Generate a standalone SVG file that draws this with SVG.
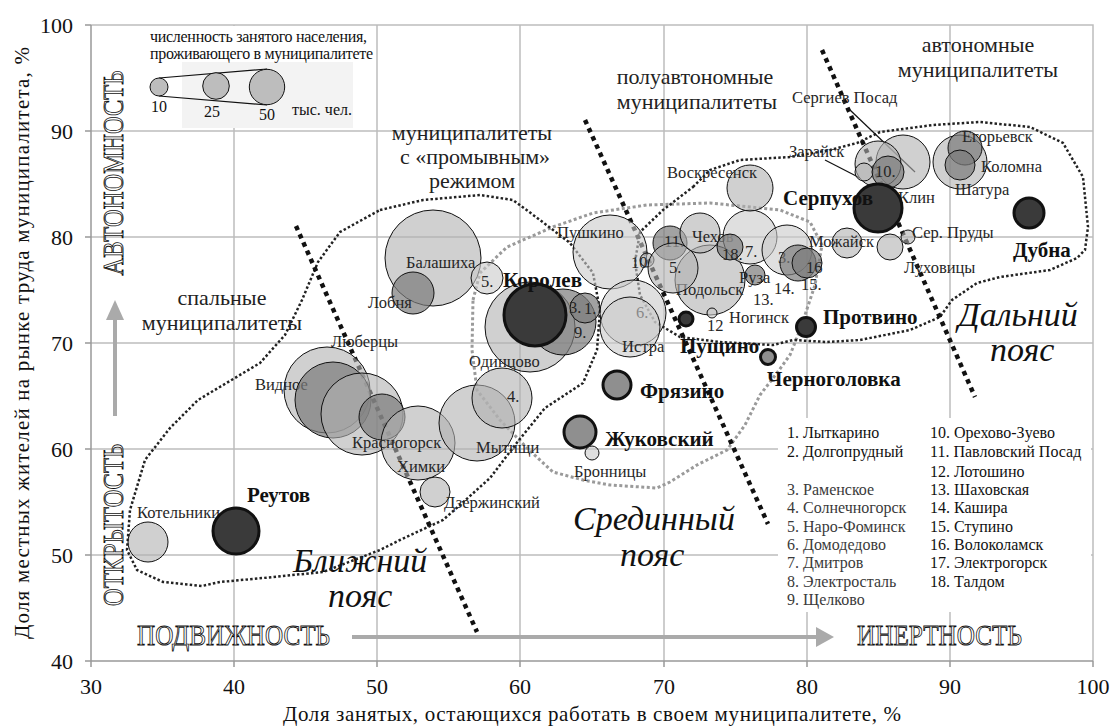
<svg xmlns="http://www.w3.org/2000/svg" width="1110" height="727" viewBox="0 0 1110 727" font-family="'Liberation Serif', serif">
<style>
text{font-family:"Liberation Serif","Times New Roman",serif;fill:#111}
.grid{stroke:#bdbdbd;stroke-width:1.5;fill:none}
.axis{stroke:#999;stroke-width:1.5;fill:none}
.tick{font-size:22px}
.lbl{font-size:16.5px;fill:#262626}
.bold{font-size:21px;font-weight:bold;fill:#111}
.zone{font-size:22px;fill:#222;text-anchor:middle}
.belt{font-size:34px;font-style:italic;fill:#111}
.outline{font-size:29px;fill:#fff;stroke:#111;stroke-width:0.9}
.leg{font-size:16px;fill:#111}
.leg2{font-size:16px;fill:#3a3a3a}
circle{stroke:#111;stroke-width:1}
.l{fill:#b0b0b0;fill-opacity:0.6}
.vl{fill:#cacaca;fill-opacity:0.6}
.m{fill:#7a7a7a;fill-opacity:0.7}
.sd{fill:#3a3a3a;stroke-width:3}
.sm{fill:#8f8f8f;stroke-width:3}
.thick{stroke:#111;stroke-width:4.5;stroke-dasharray:4.5 4.5;fill:none}
.bloop{stroke:#222;stroke-width:2.5;stroke-dasharray:2.5 2.2;fill:none}
.gloop{stroke:#9a9a9a;stroke-width:3;stroke-dasharray:3 2.5;fill:none}
.lead{stroke:#111;stroke-width:1.2;fill:none}
</style>
<rect x="0" y="0" width="1110" height="727" fill="#fff"/>
<g id="grid">
<path class="grid" d="M234,25V661M377,25V661M520,25V661M664,25V661M807,25V661M950,25V661M91,131H1093M91,237H1093M91,343H1093M91,449H1093M91,555H1093M91,25H1093V661"/>
<path class="axis" d="M91,25V661H1093M85,25H91M85,131H91M85,237H91M85,343H91M85,449H91M85,555H91M85,661H91M91,661V667M234,661V667M377,661V667M520,661V667M664,661V667M807,661V667M950,661V667M1093,661V667"/>
</g>
<g id="ticks" class="tick">
<text x="73" y="33" text-anchor="end">100</text>
<text x="73" y="139" text-anchor="end">90</text>
<text x="73" y="245" text-anchor="end">80</text>
<text x="73" y="351" text-anchor="end">70</text>
<text x="73" y="457" text-anchor="end">60</text>
<text x="73" y="563" text-anchor="end">50</text>
<text x="73" y="669" text-anchor="end">40</text>
<text x="91" y="694" text-anchor="middle">30</text>
<text x="234" y="694" text-anchor="middle">40</text>
<text x="377" y="694" text-anchor="middle">50</text>
<text x="520" y="694" text-anchor="middle">60</text>
<text x="664" y="694" text-anchor="middle">70</text>
<text x="807" y="694" text-anchor="middle">80</text>
<text x="950" y="694" text-anchor="middle">90</text>
<text x="1093" y="694" text-anchor="middle">100</text>
<text x="592" y="721" text-anchor="middle" font-size="21" textLength="618">Доля занятых, остающихся работать в своем муниципалитете, %</text>
<text transform="translate(29,343) rotate(-90)" text-anchor="middle" font-size="21" textLength="592">Доля местных жителей на рынке труда муниципалитета, %</text>
</g>
<g id="size-legend">
<rect x="140" y="26" width="233" height="102" fill="#fff"/>
<rect x="182" y="62" width="171" height="66" fill="#f3f3f3"/>
<text class="leg" x="150" y="42" textLength="217">численность занятого населения,</text>
<text class="leg" x="150" y="59" textLength="223">проживающего в муниципалитете</text>
<path class="lead" d="M159,78L267,69M159,96L267,105"/>
<circle cx="159" cy="87" r="9" fill="#bdbdbd"/>
<circle cx="216" cy="86" r="13.3" fill="#bdbdbd"/>
<circle cx="267" cy="87" r="17.7" fill="#bdbdbd"/>
<text class="leg" x="159" y="112" text-anchor="middle">10</text>
<text class="leg" x="212" y="117" text-anchor="middle">25</text>
<text class="leg" x="267" y="120" text-anchor="middle">50</text>
<text class="leg" x="292" y="115">тыс. чел.</text>
</g>
<g id="axis-labels">
<text class="outline" transform="translate(123,173) rotate(-90)" text-anchor="middle" textLength="205" lengthAdjust="spacingAndGlyphs">АВТОНОМНОСТЬ</text>
<text class="outline" transform="translate(123,525) rotate(-90)" text-anchor="middle" textLength="162" lengthAdjust="spacingAndGlyphs">ОТКРЫТОСТЬ</text>
<path d="M115,416V318" stroke="#aaa" stroke-width="4"/>
<path d="M115,300L106,320H124Z" fill="#aaa"/>
<text class="outline" x="137" y="645" textLength="193" lengthAdjust="spacingAndGlyphs">ПОДВИЖНОСТЬ</text>
<text class="outline" x="857" y="645" textLength="165" lengthAdjust="spacingAndGlyphs">ИНЕРТНОСТЬ</text>
<path d="M352,637H818" stroke="#aaa" stroke-width="4"/>
<path d="M834,637L816,627V647Z" fill="#aaa"/>
</g>
<g id="zone-labels">
<text class="zone" x="222" y="305">спальные</text>
<text class="zone" x="222" y="330">муниципалитеты</text>
<text class="zone" x="472" y="140">муниципалитеты</text>
<text class="zone" x="475" y="164">с «промывным»</text>
<text class="zone" x="472" y="188">режимом</text>
<text class="zone" x="695" y="84">полуавтономные</text>
<text class="zone" x="697" y="109">муниципалитеты</text>
<text class="zone" x="978" y="52">автономные</text>
<text class="zone" x="978" y="77">муниципалитеты</text>
<text class="belt" x="293" y="572">Ближний</text>
<text class="belt" x="328" y="607">пояс</text>
<text class="belt" x="573" y="530">Срединный</text>
<text class="belt" x="620" y="566">пояс</text>
<text class="belt" x="958" y="326">Дальний</text>
<text class="belt" x="990" y="361">пояс</text>
</g>
<g id="list-legend">
<rect x="778" y="418" width="313" height="194" fill="#fff"/>
<text class="leg" x="787" y="438">1. Лыткарино</text>
<text class="leg" x="787" y="457">2. Долгопрудный</text>
<text class="leg2" x="787" y="495">3. Раменское</text>
<text class="leg2" x="787" y="513">4. Солнечногорск</text>
<text class="leg2" x="787" y="532">5. Наро-Фоминск</text>
<text class="leg2" x="787" y="550">6. Домодедово</text>
<text class="leg2" x="787" y="568">7. Дмитров</text>
<text class="leg2" x="787" y="587">8. Электросталь</text>
<text class="leg2" x="787" y="605">9. Щелково</text>
<text class="leg" x="930" y="438">10. Орехово-Зуево</text>
<text class="leg" x="930" y="457">11. Павловский Посад</text>
<text class="leg" x="930" y="477">12. Лотошино</text>
<text class="leg" x="930" y="495">13. Шаховская</text>
<text class="leg" x="930" y="513">14. Кашира</text>
<text class="leg" x="930" y="532">15. Ступино</text>
<text class="leg" x="930" y="550">16. Волоколамск</text>
<text class="leg" x="930" y="568">17. Электрогорск</text>
<text class="leg" x="930" y="587">18. Талдом</text>
</g>
<g id="zones">
<path class="gloop" d="M473,300L480,273L507,247L553,227L593,213L647,205L710,203L780,210L810,222L822,245L815,285L800,330L790,355L777,373L760,395L745,425L727,450L697,465L670,482L657,488L610,485L583,480L553,472L527,448L500,420L477,390L472,350Z"/>
<path class="bloop" d="M380,210L423,200L480,195L513,200L540,220L570,243L593,273L600,310L597,350L583,383L545,408L515,445L490,478L460,505L443,520L400,540L380,550L323,572L263,578L220,582L202,586L163,582L137,570L127,550L130,510L145,460L170,428L198,400L260,363L285,335L302,300L318,262L340,232Z"/>
<path class="bloop" d="M693,187L710,170L740,160L790,157L830,150L857,143L880,132L933,125L980,122L1030,127L1063,143L1083,177L1088,227L1085,250L1077,258L1050,270L1000,277L977,283L952,300L940,317L910,330L860,340L827,342L793,340L773,345L720,342L680,337L655,322L640,295L635,262L640,232L663,210Z"/>
<path class="thick" d="M296,226L477,632"/>
<path class="thick" d="M585,120L768,524"/>
<path class="thick" d="M822,50L975,397"/>
</g>
<g id="connectors">
<path class="lead" d="M850,110L915,172"/>
<path class="lead" d="M825,160L860,178"/>
</g>
<g id="n-kotelniki"><circle class="l" cx="148" cy="542" r="20"/><text class="lbl" x="137" y="518">Котельники</text></g>
<g id="n-reutov"><circle class="sd" cx="236" cy="531" r="23"/><text class="bold" x="247" y="502">Реутов</text></g>
<g id="n-vidnoe"><circle class="l" cx="327" cy="390" r="43"/><text class="lbl" x="255" y="390">Видное</text></g>
<g id="n-lubertsy"><circle class="m" cx="333" cy="400" r="38"/><text class="lbl" x="331" y="347">Люберцы</text></g>
<g id="n-c1"><circle class="l" cx="362" cy="414" r="41"/></g>
<g id="n-ramenskoe"><circle class="m" cx="382" cy="417" r="23"/></g>
<g id="n-krasnogorsk"><circle class="l" cx="418" cy="443" r="37"/><text class="lbl" x="352" y="448">Красногорск</text><text class="lbl" x="397" y="472">Химки</text></g>
<g id="n-mytishchi"><circle class="l" cx="477" cy="423" r="38"/><text class="lbl" x="476" y="453">Мытищи</text></g>
<g id="n-solnechnogorsk"><circle class="l" cx="502" cy="398" r="30"/><text class="lbl" x="507" y="402">4.</text></g>
<g id="n-dzerzhinsky"><circle class="l" cx="435" cy="492" r="15"/><text class="lbl" x="444" y="508">Дзержинский</text></g>
<g id="n-balashikha"><circle class="l" cx="433" cy="258" r="48"/><text class="lbl" x="406" y="268">Балашиха</text></g>
<g id="n-lobnya"><circle class="m" cx="413" cy="293" r="21"/><text class="lbl" x="368" y="308">Лобня</text></g>
<g id="n-narofominsk"><circle class="vl" cx="487" cy="278" r="16"/><text class="lbl" x="481" y="287">5.</text></g>
<g id="n-odintsovo"><circle class="l" cx="530" cy="327" r="45"/><text class="lbl" x="469" y="367">Одинцово</text></g>
<g id="n-shchelkovo"><circle class="m" cx="563" cy="322" r="33"/><text class="lbl" x="574" y="338">9.</text></g>
<g id="n-korolev"><circle class="sd" cx="535" cy="315" r="31"/><text class="bold" x="503" y="287">Королев</text></g>
<g id="n-lytkarino"><circle class="m" cx="585" cy="308" r="15"/><text class="lbl" x="569" y="313">3.</text><text class="lbl" x="584" y="314">1.</text></g>
<g id="n-pushkino"><circle class="vl" cx="610" cy="252" r="37"/><text class="lbl" x="557" y="238">Пушкино</text></g>
<g id="n-domodedovo"><circle class="vl" cx="633" cy="313" r="33"/><text class="lbl" x="636" y="318">6.</text></g>
<g id="n-istra"><circle class="vl" cx="630" cy="327" r="30"/><text class="lbl" x="622" y="352">Истра</text></g>
<g id="n-elektrogorsk"><circle class="l" cx="647" cy="260" r="7"/><text class="lbl" x="631" y="268">10</text></g>
<g id="n-podolsk"><circle class="l" cx="710" cy="280" r="35"/><text class="lbl" x="676" y="295">Подольск</text></g>
<g id="n-pavposad"><circle class="m" cx="670" cy="243" r="17"/><text class="lbl" x="664" y="247">11.</text></g>
<g id="n-c5b"><circle class="l" cx="673" cy="268" r="25"/><text class="lbl" x="669" y="273">5.</text></g>
<g id="n-chekhov"><circle class="l" cx="700" cy="233" r="20"/><text class="lbl" x="692" y="242">Чехов</text></g>
<g id="n-dmitrov"><circle class="vl" cx="750" cy="237" r="27"/><text class="lbl" x="745" y="257">7.</text></g>
<g id="n-taldom"><circle class="m" cx="730" cy="247" r="13"/><text class="lbl" x="722" y="260">18.</text></g>
<g id="n-ruza"><circle class="m" cx="755" cy="275" r="10"/><text class="lbl" x="739" y="283">Руза</text></g>
<g id="n-c3"><circle class="vl" cx="787" cy="250" r="25"/><text class="lbl" x="778" y="263">3.</text></g>
<g id="n-kashira"><circle class="m" cx="798" cy="263" r="18"/><text class="lbl" x="774" y="294">14.</text><text class="lbl" x="801" y="290">15.</text></g>
<g id="n-volokolamsk"><circle class="m" cx="807" cy="263" r="15"/><text class="lbl" x="806" y="273">16</text></g>
<g id="n-shakhovskaya"><text class="lbl" x="753" y="305">13.</text><text class="lbl" x="729" y="323">Ногинск</text></g>
<g id="n-lotoshino"><circle class="vl" cx="712" cy="313" r="5"/><text class="lbl" x="707" y="331">12</text></g>
<g id="n-pushchino"><circle class="sd" cx="686" cy="319" r="7"/><text class="bold" x="680" y="353">Пущино</text></g>
<g id="n-fryazino"><circle class="sm" cx="617" cy="385" r="14"/><text class="bold" x="640" y="398">Фрязино</text></g>
<g id="n-zhukovsky"><circle class="sm" cx="580" cy="432" r="16"/><text class="bold" x="605" y="446">Жуковский</text></g>
<g id="n-bronnitsy"><circle class="vl" cx="592" cy="453" r="7"/><text class="lbl" x="574" y="477">Бронницы</text></g>
<g id="n-chernogolovka"><circle class="sm" cx="768" cy="357" r="7.5"/><text class="bold" x="767" y="386">Черноголовка</text></g>
<g id="n-protvino"><circle class="sd" cx="806" cy="327" r="9.5"/><text class="bold" x="823" y="324">Протвино</text></g>
<g id="n-mozhaysk"><circle class="l" cx="847" cy="243" r="15"/><text class="lbl" x="809" y="247">Можайск</text></g>
<g id="n-lukhovitsy"><circle class="l" cx="890" cy="247" r="13"/><text class="lbl" x="904" y="273">Луховицы</text></g>
<g id="n-serprudy"><circle class="l" cx="908" cy="237" r="7"/><text class="lbl" x="912" y="238">Сер. Пруды</text></g>
<g id="n-voskresensk"><circle class="l" cx="750" cy="188" r="23"/><text class="lbl" x="667" y="178">Воскресенск</text></g>
<g id="n-sergposad"><circle class="l" cx="903" cy="162" r="27"/><text class="lbl" x="792" y="103">Сергиев Посад</text></g>
<g id="n-klin"><circle class="l" cx="878" cy="164" r="23"/><text class="lbl" x="898" y="203">Клин</text></g>
<g id="n-zaraysk"><circle class="l" cx="864" cy="172" r="9"/><text class="lbl" x="789" y="157">Зарайск</text></g>
<g id="n-orekhovo"><circle class="m" cx="888" cy="172" r="16"/><text class="lbl" x="875" y="177">10.</text></g>
<g id="n-serpukhov"><circle class="sd" cx="878" cy="208" r="24"/><text class="bold" x="783" y="205">Серпухов</text></g>
<g id="n-shatura"><circle class="l" cx="960" cy="162" r="27"/><text class="lbl" x="955" y="195">Шатура</text></g>
<g id="n-egoryevsk"><circle class="m" cx="965" cy="148" r="17"/><text class="lbl" x="962" y="142">Егорьевск</text></g>
<g id="n-kolomna"><circle class="m" cx="960" cy="165" r="15"/><text class="lbl" x="981" y="172">Коломна</text></g>
<g id="n-dubna"><circle class="sd" cx="1029" cy="213" r="15"/><text class="bold" x="1013" y="257">Дубна</text></g>
</svg>
